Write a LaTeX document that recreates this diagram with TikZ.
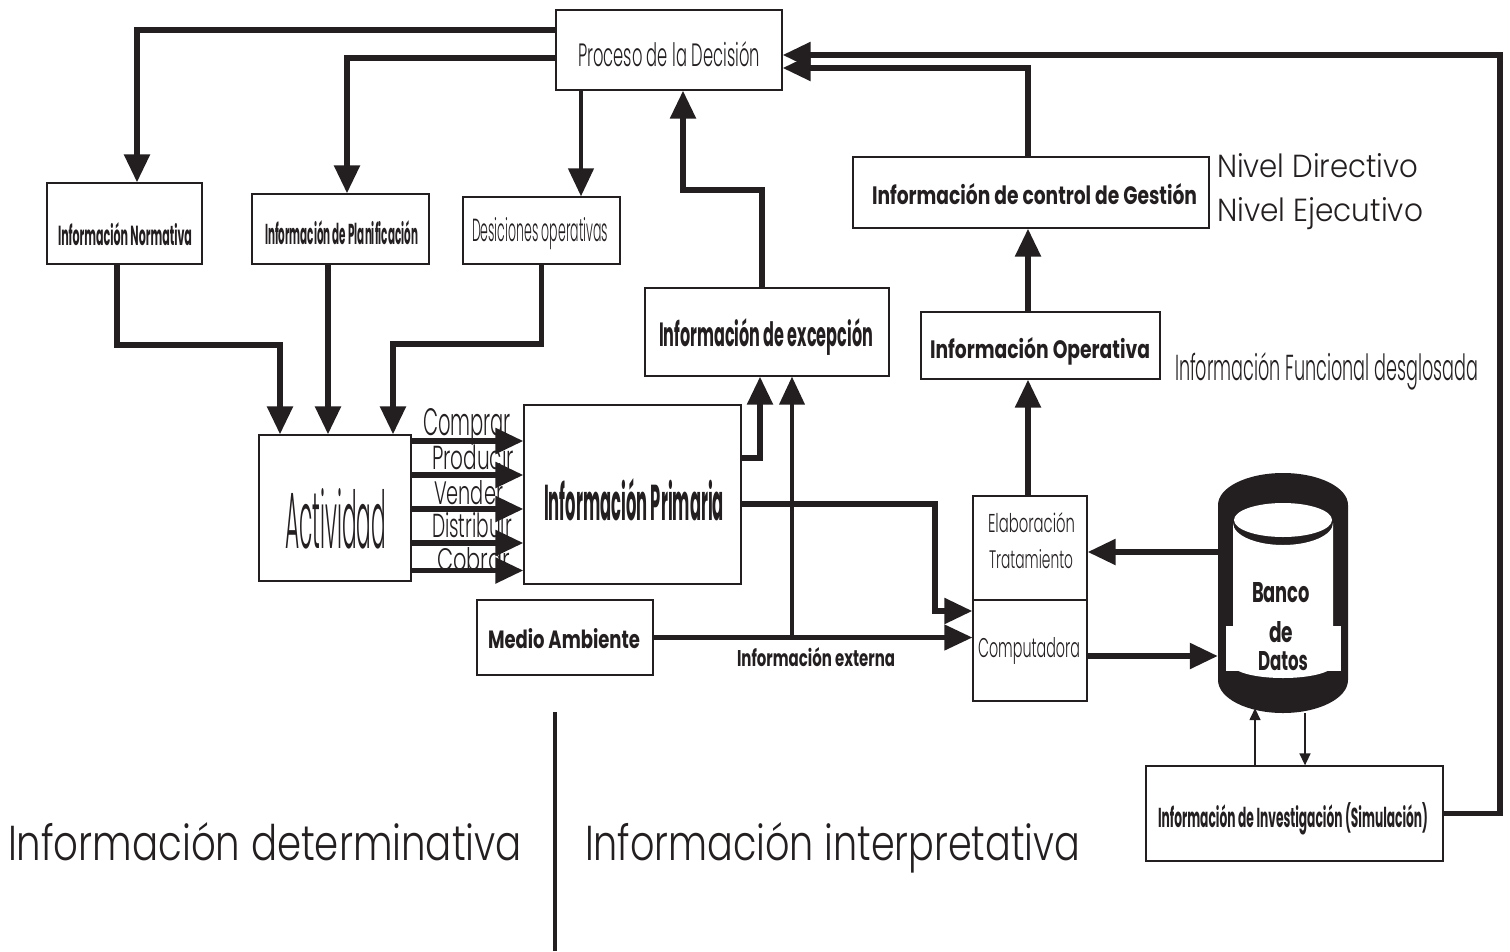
\documentclass[tikz,border=0pt]{standalone}
\usepackage{fontspec}
\setmainfont{Poppins}[UprightFont={* Light}, BoldFont={* Bold}]
\usepackage{graphicx}
\usetikzlibrary{arrows.meta}
\definecolor{ink}{RGB}{35,31,32}
% text fitted to a given width and height (in pt)
\newcommand\tx[3]{\resizebox{#1pt}{#2pt}{#3}}

\begin{document}
\begin{tikzpicture}[x=1pt,y=-1pt,
  box/.style={draw=ink, line width=1.3pt, inner sep=0pt},
  lbl/.style={inner sep=0pt, outer sep=0pt, text=ink, anchor=base west},
  flow/.style={draw=ink, line width=5.5pt, -{Triangle[length=28pt,width=25pt]}},
  flowthin/.style={draw=ink, line width=1.5pt, -{Triangle[length=12pt,width=11pt]}},
]
\useasboundingbox (0,0) rectangle (1510,951);

% boxes
\node[box, minimum width=226pt, minimum height=80pt]  (proc) at (669,50) {};
\node[box, minimum width=155pt, minimum height=81pt]  (norm) at (124.5,223.5) {};
\node[box, minimum width=177pt, minimum height=70pt]  (plan) at (340.5,229) {};
\node[box, minimum width=157pt, minimum height=67pt]  (desi) at (541.5,230.5) {};
\node[box, minimum width=152pt, minimum height=146pt] (act)  at (335,508) {};
\node[box, minimum width=217pt, minimum height=179pt] (prim) at (632.5,494.5) {};
\node[box, minimum width=176pt, minimum height=75pt]  (med)  at (565,637.5) {};
\node[box, minimum width=244pt, minimum height=88pt]  (exc)  at (767,332) {};
\node[box, minimum width=356pt, minimum height=71pt]  (ges)  at (1031,192.5) {};
\node[box, minimum width=239pt, minimum height=67pt]  (op)   at (1040.5,345.5) {};
\node[box, minimum width=114pt, minimum height=104pt] (elab) at (1030,548) {};
\node[box, minimum width=114pt, minimum height=101pt] (comp) at (1030,650.5) {};
\node[box, minimum width=297pt, minimum height=95pt]  (inv)  at (1294.5,813.5) {};

% data bank cylinder
\node[inner sep=0pt, minimum width=130pt, minimum height=240pt] (db) at (1283,593) {};
\fill[ink] (1218,680) -- (1218,505) arc[start angle=180, end angle=0, x radius=65pt, y radius=32pt]
  -- (1348,680) arc[start angle=0, end angle=-180, x radius=65pt, y radius=33pt] -- cycle;
\fill[white] (1283,520) ellipse[x radius=49pt, y radius=17pt];
\fill[white] (1233,523) arc[start angle=180, end angle=360, x radius=50pt, y radius=22pt]
  -- (1333,665) arc[start angle=0, end angle=-180, x radius=50pt, y radius=13pt] -- cycle;
\fill[white] (1226,626) rectangle (1341,671);

% texts
\node[lbl] (tProc) at (578,66)  {\tx{182}{25}{Proceso de la Decisión}};
\node[lbl] (tNorm) at (58,245)  {\tx{134}{23}{\bfseries Información Normativa}};
\node[lbl] (tPlan) at (265,244) {\tx{153}{24}{\bfseries Información de Planificación}};
\node[lbl] (tDesi) at (472,241) {\tx{136}{24}{Desiciones operativas}};
\node[lbl] (tAct)  at (285,548) {\tx{101}{60}{Actividad}};
\node[lbl] (tPrim) at (544,520) {\tx{180}{42}{\bfseries Información Primaria}};
\node[lbl] (tCom)  at (423,435) {\tx{88}{27}{Comprar}};
\node[lbl] (tPro)  at (432,469) {\tx{82}{25}{Producir}};
\node[lbl] (tVen)  at (434,504) {\tx{69}{24}{Vender}};
\node[lbl] (tDis)  at (432,537) {\tx{80}{25}{Distribuir}};
\node[lbl] (tCob)  at (437,570) {\tx{73}{23}{Cobrar}};
\node[lbl] (tMed)  at (488,648) {\tx{152}{20}{\bfseries Medio Ambiente}};
\node[lbl] (tExt)  at (737,666) {\tx{158}{19}{\bfseries Información externa}};
\node[lbl] (tExc)  at (659,346) {\tx{214}{28}{\bfseries Información de excepción}};
\node[lbl] (tGes)  at (872,204) {\tx{325}{21}{\bfseries Información de control de Gestión}};
\node[lbl] (tDir)  at (1217,177) {\tx{201}{24}{Nivel Directivo}};
\node[lbl] (tEje)  at (1217,221) {\tx{206}{24}{Nivel Ejecutivo}};
\node[lbl] (tOp)   at (930,358) {\tx{220}{21}{\bfseries Información Operativa}};
\node[lbl] (tFun)  at (1175,380) {\tx{303}{28}{Información Funcional desglosada}};
\node[lbl] (tElab) at (988,532) {\tx{87}{20}{Elaboración}};
\node[lbl] (tTrat) at (989,568) {\tx{84}{19}{Tratamiento}};
\node[lbl] (tComp) at (978,657) {\tx{102}{20}{Computadora}};
\node[lbl, anchor=base] (tB1) at (1281,602) {\tx{58}{20}{\bfseries Banco}};
\node[lbl, anchor=base] (tB2) at (1281,642) {\tx{24}{21}{\bfseries de}};
\node[lbl, anchor=base] (tB3) at (1283,670) {\tx{50}{19}{\bfseries Datos}};
\node[lbl] (tInv)  at (1158,827) {\tx{270}{25}{\bfseries Información de Investigación (Simulación)}};
\node[lbl] (tDet)  at (8,860)   {\tx{514}{38}{Información determinativa}};
\node[lbl] (tInt)  at (585,860) {\tx{495}{38}{Información interpretativa}};

% divider between the two kinds of information
\draw[ink, line width=4pt] (555,712) -- (555,951);

% corner points of the routed connectors
\coordinate (cExc)  at (683,190);
\coordinate (cLoop) at (1500,55);
\coordinate (cNorm) at (280,345);
\coordinate (cDes)  at (393,344);
\coordinate (cComp) at (935,611);

% decision process feeds the three kinds of directives
\draw[flow] ([yshift=20pt]proc.west) -| ([xshift=12.5pt]norm.north);
\draw[flow] ([yshift=-8pt]proc.west) -| ([xshift=6.5pt]plan.north);
\draw[flow, line width=4.5pt] ([xshift=-88pt]proc.south) -- ([xshift=-88pt]proc.south |- desi.north);

% directives into the activity
\draw[flow] ([xshift=-7.5pt]norm.south) |- (cNorm) -- (cNorm |- act.north);
\draw[flow] ([xshift=-12.5pt]plan.south) -- ([xshift=-12.5pt]plan.south |- act.north);
\draw[flow] (desi.south) |- (cDes) -- (cDes |- act.north);

% activity into primary information
\foreach \s in {67,33,-1,-35,-62.5}
  \draw[flow] ([yshift=\s pt]act.east) -- ([yshift=\s pt]act.east -| prim.west);

% exception reporting
\draw[flow] ([yshift=36.5pt]prim.east) -| ([xshift=-7pt]exc.south);
\draw[flow, line width=4pt] ([xshift=25pt]exc.south |- med.east) -- ([xshift=25pt]exc.south);
\draw[flow] ([xshift=-5pt]exc.north) |- (cExc) -- ([xshift=14pt]proc.south);

% processing chain
\draw[flow, line width=4.5pt] (med.east) -- (med.east -| comp.west);
\draw[flow] ([yshift=-9.5pt]prim.east) -| (cComp) -- (cComp -| comp.west);
\draw[flow] ([yshift=41pt]db.west) -- ([yshift=41pt]db.west -| elab.east);
\draw[flow] ([yshift=-5.5pt]comp.east) -- ([yshift=-5.5pt]comp.east -| db.west);
\draw[flow] ([xshift=-2pt]elab.north) -- ([xshift=-2pt]elab.north |- op.south);
\draw[flow] ([xshift=-12.5pt]op.north) -- ([xshift=-12.5pt]op.north |- ges.south);
\draw[flow] ([xshift=-3pt]ges.north) |- ([yshift=-18pt]proc.east);

% research / simulation
\draw[flowthin] ([xshift=-39.5pt]inv.north) -- ([xshift=-28pt,yshift=5pt]db.south);
\draw[flowthin] ([xshift=22pt]db.south) -- ([xshift=10.5pt]inv.north);
\draw[flow] (inv.east) -| (cLoop) -- ([yshift=-5pt]proc.east);
\end{tikzpicture}
\end{document}
